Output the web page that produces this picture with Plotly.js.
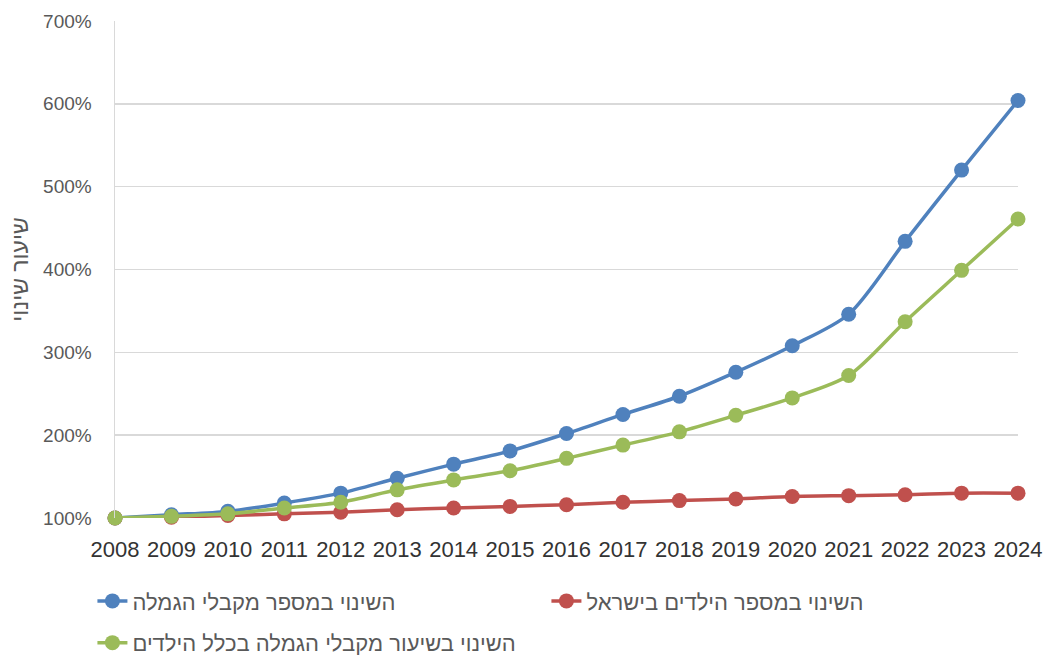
<!DOCTYPE html>
<html>
<head>
<meta charset="utf-8">
<script src="https://cdn.plot.ly/plotly-3.0.1.min.js"></script>
<style>html,body{margin:0;padding:0;background:#fff;}#chart{width:1047px;height:655px;}</style>
</head>
<body>
<div id="chart"></div>
<script>
const years = [2008,2009,2010,2011,2012,2013,2014,2015,2016,2017,2018,2019,2020,2021,2022,2023,2024];
const recipientsChange = [100,104,108,118,130,148,165,181,202,225,247,276,308,346,434,520,604];
const childrenChange = [100,101,103,105,107,110,112,114,116,119,121,123,126,127,128,130,130];
const rateChange = [100,102,105,112,119,134,146,157,172,188,204,224,245,272,337,399,461];
const seriesNames = ['השינוי במספר מקבלי הגמלה','השינוי במספר הילדים בישראל','השינוי בשיעור מקבלי הגמלה בכלל הילדים'];
const yTicks = [100,200,300,400,500,600,700];
const yTickLabels = ['100%','200%','300%','400%','500%','600%','700%'];
const colors = ['#4f81bd','#c0504d','#9bbb59'];

const FONT = 'Liberation Sans, Arial, sans-serif';
function mk(y, i, legend) {
  return {
    x: years, y: y, name: seriesNames[i], type: 'scatter', mode: 'lines+markers',
    line: {color: colors[i], width: 3.5, shape: 'spline', smoothing: 0.8},
    marker: {color: colors[i], size: 15},
    cliponaxis: false, legend: legend, hoverinfo: 'x+y'
  };
}
const data = [mk(recipientsChange,0,'legend'), mk(childrenChange,1,'legend'), mk(rateChange,2,'legend2')];
const layout = {
  width: 1047, height: 655,
  margin: {l: 115, r: 29, t: 21, b: 137, autoexpand: false},
  paper_bgcolor: '#fff', plot_bgcolor: '#fff',
  font: {family: FONT, color: '#595959', size: 19},
  xaxis: {
    range: [2008, 2024], tickvals: years, ticktext: years.map(String),
    showgrid: false, zeroline: false, showline: false, automargin: false,
    tickfont: {size: 22, color: '#333'}, ticks: '', ticklabelstandoff: 16
  },
  yaxis: {
    range: [100, 700], tickvals: yTicks, ticktext: yTickLabels, automargin: false,
    showgrid: true, gridcolor: '#d9d9d9', gridwidth: 1.5, zeroline: false,
    showline: true, linecolor: '#d9d9d9', linewidth: 1.5,
    tickfont: {size: 19, color: '#595959'}, ticks: '', ticklabelstandoff: 18,
    title: {text: 'שיעור שינוי', font: {size: 23, color: '#595959'}, standoff: 8}
  },
  showlegend: true,
  legend: {orientation: 'h', x: -0.025, xanchor: 'left', y: -0.125, yanchor: 'top',
           entrywidth: 409, entrywidthmode: 'pixels', font: {size: 22, color: '#595959'}, bgcolor: 'rgba(0,0,0,0)'},
  legend2: {orientation: 'h', x: -0.025, xanchor: 'left', y: -0.209, yanchor: 'top',
           font: {size: 22, color: '#595959'}, bgcolor: 'rgba(0,0,0,0)'},
  hovermode: false
};
Plotly.newPlot('chart', data, layout, {displayModeBar: false, staticPlot: true});
</script>
</body>
</html>
